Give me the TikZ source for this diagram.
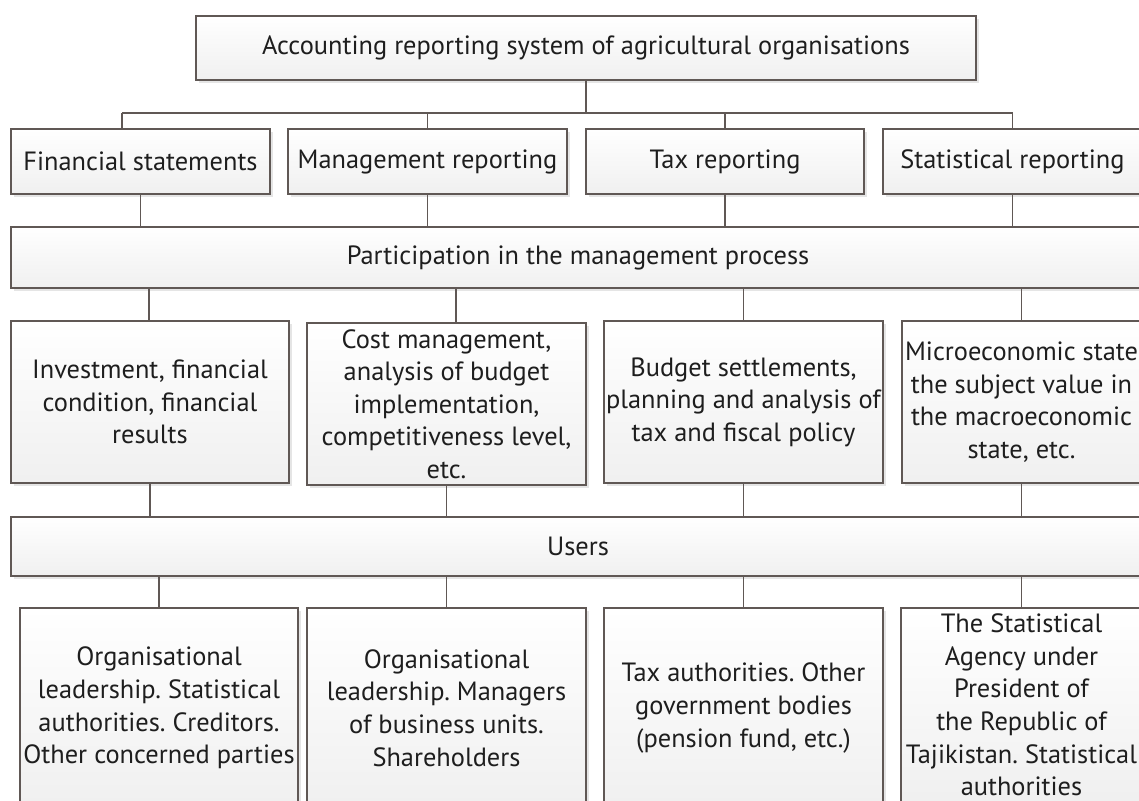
\documentclass[tikz,border=0pt]{standalone}
\usepackage{fontspec}
\setmainfont{PT Sans}
\usetikzlibrary{shadows}
\definecolor{linegray}{RGB}{96,88,85}
\definecolor{textgray}{RGB}{30,30,30}
\tikzset{
  cell/.style 2 args={draw=linegray, line width=1.4pt, top color=white, bottom color=gray!12,
    minimum width=#1*0.75pt, minimum height=#2*0.75pt, inner sep=0pt, align=center,
    text=textgray, font=\fontsize{19.8}{24.4}\selectfont\frenchspacing,
    drop shadow={shadow xshift=2pt, shadow yshift=-2pt, fill=black!10, opacity=1}},
  link/.style={draw=linegray, line width=1.4pt}
}
\begin{document}
\begin{tikzpicture}[x=0.75pt, y=-0.75pt]
\useasboundingbox (0,0) rectangle (1139,800);

% Top level
\node[cell={780}{64}] (sys) at (586,48) {Accounting reporting system of agricultural organisations};

% Kinds of reporting
\node[cell={259}{65}] (fin)  at (140.5,161.5)  {Financial statements};
\node[cell={279}{65}] (mgmt) at (427.5,161.5)  {Management reporting};
\node[cell={278}{65}] (tax)  at (725,161.5)    {Tax reporting};
\node[cell={259}{65}] (stat) at (1012.5,161.5) {Statistical reporting};

% Management process
\node[cell={1134}{61}] (part) at (578,257.5) {Participation in the management process};

\node[cell={278}{162}] (r3a) at (150,402)    {Investment, financial\\condition, financial\\results};
\node[cell={279}{162}] (r3b) at (446.5,404)  {Cost management,\\analysis of budget\\implementation,\\competitiveness level,\\etc.};
\node[cell={279}{162}] (r3c) at (743.5,402)  {Budget settlements,\\planning and analysis of\\tax and fiscal policy};
\node[cell={239}{162}] (r3d) at (1021.5,402) {Microeconomic state\\the subject value in\\the macroeconomic\\state, etc.};

% Users
\node[cell={1134}{59}] (users) at (578,546.5) {Users};

\node[cell={278}{200}] (r4a) at (159,708)    {Organisational\\leadership. Statistical\\authorities. Creditors.\\Other concerned parties};
\node[cell={279}{200}] (r4b) at (446.5,708)  {Organisational\\leadership. Managers\\of business units.\\Shareholders};
\node[cell={279}{200}] (r4c) at (743.5,708)  {Tax authorities. Other\\government bodies\\(pension fund, etc.)};
\node[cell={241}{194}] (r4d) at (1021.5,705) {The Statistical\\Agency under\\President of\\the Republic of\\Tajikistan. Statistical\\authorities};

% Connectors
\coordinate (busL) at (122,113);
\coordinate (busR) at (1013,113);
\draw[link] (sys.south) -- (sys.south |- busL);
\draw[link] (busL) -- (busR);
\draw[link] (busL) -- (busL |- fin.north);
\foreach \n in {mgmt,tax,stat}
  \draw[link] (\n.north) -- (\n.north |- busL);

\foreach \n in {fin,mgmt,tax,stat}
  \draw[link] (\n.south) -- (\n.south |- part.north);

\foreach \n/\dx in {r3a/-1,r3b/9.5,r3c/0,r3d/0}
  \draw[link] ([xshift=\dx*0.75pt]\n.north) coordinate (c) -- (c |- part.south);

\foreach \n in {r3a,r3b,r3c,r3d}
  \draw[link] (\n.south) -- (\n.south |- users.north);

\foreach \n in {r4a,r4b,r4c,r4d}
  \draw[link] (\n.north) -- (\n.north |- users.south);

\end{tikzpicture}
\end{document}
